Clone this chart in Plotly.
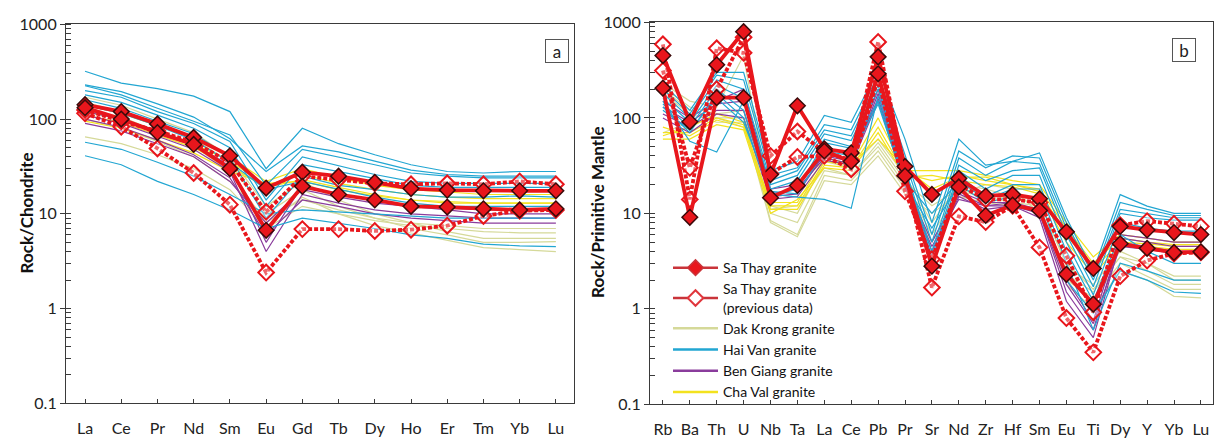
import plotly.graph_objects as go

# ---------------- data ----------------
REE = ["La", "Ce", "Pr", "Nd", "Sm", "Eu", "Gd", "Tb", "Dy", "Ho", "Er", "Tm", "Yb", "Lu"]
SPIDER = ["Rb", "Ba", "Th", "U", "Nb", "Ta", "La", "Ce", "Pb", "Pr", "Sr", "Nd", "Zr", "Hf",
          "Sm", "Eu", "Ti", "Dy", "Y", "Yb", "Lu"]

Y_TICKS = [0.1, 1, 10, 100, 1000]
Y_TICKTEXT = ["0.1", "1", "10", "100", "1000"]

# Sa Thay granite (this study)
sa_thay_ree = [
    [142, 120, 89, 64, 41, 18.7, 27.5, 25, 21.5, 18.5, 17.8, 17.5, 17.5, 17.5],
    [132, 100, 72, 54, 30, 6.7, 19.5, 16, 14, 12, 11.8, 11.3, 11.0, 11.3],
]
# Sa Thay granite (previous data)
sa_thay_prev_ree = [
    [115, 83, 49, 27, 12.5, 2.4, 6.9, 6.9, 6.6, 6.8, 7.5, 9.5, 10.8, 11],
    [125, 95, 75, 57, 35, 10.5, 25, 23, 21, 20.5, 21, 20.5, 22, 20.5],
]
dak_krong_ree = [
    [170, 140, 100, 72, 40, 12, 22, 14, 10, 8, 6.5, 5.5, 5.5, 5.5],
    [150, 120, 88, 62, 35, 10, 18, 12, 9, 7, 6, 5, 5, 5.1],
    [130, 105, 75, 52, 28, 8, 15, 10, 7.5, 6.3, 5.3, 4.4, 4.2, 4.0],
    [100, 80, 58, 40, 22, 9, 14, 11, 9, 8, 7.5, 7, 7, 7],
    [65, 55, 42, 30, 18, 7, 12, 10, 8.5, 7.5, 7, 6.5, 6.3, 6.3],
]
hai_van_ree = [
    [320, 240, 210, 175, 120, 30, 80, 55, 42, 33, 28, 27, 28, 28],
    [230, 195, 145, 105, 62, 28, 52, 45, 36, 29, 26, 25, 25, 25],
    [225, 180, 130, 95, 68, 20, 48, 40, 33, 27, 25, 24, 24, 24],
    [200, 170, 120, 90, 58, 14, 40, 32, 26, 22, 21, 21, 21, 21],
    [180, 150, 110, 80, 50, 12, 33, 28, 24, 20, 19, 19, 19, 19],
    [160, 130, 95, 70, 40, 9, 25, 20, 18, 16, 15, 15, 15.5, 15],
    [140, 115, 85, 60, 35, 18, 22, 18, 15, 13, 12, 12, 12, 12],
    [57, 48, 35, 25, 16, 10, 11, 10.5, 10, 9.5, 9, 9, 9, 9],
    [41, 33, 22, 16, 11, 7, 9, 8, 7, 6, 5.5, 4.8, 4.6, 4.5],
]
ben_giang_ree = [
    [120, 100, 75, 55, 32, 5, 20, 16, 14, 12, 11, 10, 10, 10],
    [110, 90, 66, 48, 28, 4, 16, 13, 11, 10, 9.5, 9, 9, 9],
    [100, 82, 60, 42, 24, 6, 14, 12, 10, 9, 8.5, 8, 8, 8],
    [90, 75, 55, 40, 22, 8, 18, 15, 13, 12, 11.5, 11, 11, 11],
]
cha_val_ree = [
    [140, 115, 85, 62, 40, 22, 30, 24, 20, 18, 17, 16, 16, 16],
    [120, 100, 75, 55, 36, 20, 26, 21, 18, 16, 15, 14.5, 14.5, 14.5],
    [110, 92, 68, 50, 32, 19, 23, 19, 16, 14, 13, 13, 13, 13],
    [95, 80, 60, 44, 28, 21, 22, 18, 15.5, 14, 13.5, 13, 13, 13],
]

sa_thay_sp = [
    [450, 91, 360, 800, 25.5, 134, 47.5, 43, 436, 31, 15.8, 23.2, 15.2, 15.8, 14.2, 6.4, 2.65, 7.3, 6.7, 6.3, 6.0],
    [205, 9.1, 163, 163, 14.6, 19.6, 45, 35, 290, 24.7, 2.8, 18.9, 9.5, 12.2, 10.7, 2.3, 1.12, 4.8, 4.3, 3.9, 3.95],
]
sa_thay_prev_sp = [
    [590, 14, 536, 480, 40, 72, 44, 36, 625, 25, 1.67, 9.3, 8.1, 12, 4.4, 0.8, 0.35, 2.2, 3.2, 3.8, 3.9],
    [313, 30, 200, 700, 26, 39, 40, 29, 260, 17, 3.3, 20, 14, 14, 13, 3.6, 0.92, 7.5, 8.3, 7.8, 7.3],
]
dak_krong_sp = [
    [230, 150, 130, 450, 12, 10, 35, 30, 60, 25, 8, 20, 18, 15, 14, 2.8, 1.8, 4, 3, 2.2, 2.2],
    [210, 130, 110, 120, 10, 8, 28, 25, 50, 20, 6, 17, 15, 13, 12, 2.3, 1.5, 3.5, 2.5, 1.8, 1.8],
    [200, 120, 100, 100, 8.4, 6, 25, 22, 45, 18, 5, 15, 13, 12, 11, 2.0, 1.3, 3, 2.2, 1.6, 1.6],
    [180, 110, 90, 90, 8, 5.7, 22, 20, 40, 16, 10, 16, 20, 18, 10, 1.8, 1.0, 2.5, 2, 1.35, 1.3],
    [70, 90, 100, 80, 11, 12, 30, 25, 55, 22, 12, 18, 16, 14, 13, 3, 1.6, 3.5, 3, 2, 2],
]
hai_van_sp = [
    [230, 120, 300, 300, 28, 35, 106, 90, 320, 60, 8, 60, 32, 35, 43, 9, 2.5, 15.7, 11.9, 10, 10],
    [200, 110, 280, 250, 25, 30, 85, 75, 280, 40, 6, 45, 30, 40, 38, 8, 2.2, 13, 11, 9.5, 9.5],
    [180, 100, 250, 200, 22, 28, 75, 65, 250, 35, 5, 38, 25, 35, 33, 7, 2.0, 11, 10, 9, 9],
    [160, 90, 220, 160, 20, 25, 68, 58, 220, 30, 4, 32, 22, 28, 30, 6, 1.7, 10, 9, 8.5, 8.5],
    [150, 57, 44, 150, 18, 22, 60, 50, 200, 28, 3.5, 28, 18, 25, 25, 5, 1.4, 8, 7, 6.5, 6.5],
    [140, 80, 200, 120, 16, 14.8, 14, 11.3, 170, 25, 3, 25, 15, 20, 20, 4, 1.2, 6, 4, 3, 3],
    [130, 70, 180, 100, 15, 18, 55, 48, 150, 22, 10, 22, 14, 18, 18, 3, 0.6, 3, 2.5, 2, 2],
    [120, 75, 160, 90, 17, 16, 45, 40, 140, 20, 7, 20, 13, 15, 15, 2, 0.9, 2.5, 2, 1.5, 1.45],
]
ben_giang_sp = [
    [150, 100, 150, 200, 18, 20, 40, 35, 200, 22, 4, 16, 12, 13, 10, 1.5, 0.6, 5.5, 5, 4.5, 4.5],
    [130, 90, 140, 150, 16, 18, 38, 33, 180, 20, 3.5, 15, 11, 12, 9, 1.2, 0.5, 5, 4.5, 4, 4],
    [110, 80, 120, 120, 15, 16, 42, 36, 160, 21, 5, 17, 13, 13, 11, 2, 0.75, 6, 5.5, 5, 5],
    [100, 70, 110, 100, 14, 15, 36, 32, 150, 19, 4.5, 14, 12, 12, 10, 1.8, 0.7, 4.5, 4.2, 3.8, 3.8],
]
cha_val_sp = [
    [65, 80, 110, 90, 12, 12, 35, 32, 100, 28, 28, 28, 25, 22, 20, 8, 3.5, 6, 5.5, 5, 5],
    [70, 70, 100, 85, 11, 11, 32, 30, 80, 26, 22, 25, 22, 20, 18, 7, 3.0, 5.5, 5, 4.7, 4.7],
    [80, 65, 95, 80, 13, 13, 38, 33, 60, 30, 18, 24, 24, 20, 17, 6, 2.6, 5, 4.8, 4.5, 4.5],
    [60, 60, 85, 75, 10, 14, 30, 28, 70, 24, 25, 22, 20, 19, 16, 5, 2.3, 4.6, 4.5, 4.2, 4.2],
]

# ---------------- style ----------------
C_DAK = "#d5d999"
C_HAI = "#22a6d2"
C_BEN = "#8a3c9c"
C_CHA = "#f3e21e"
C_RED = "#e8161c"
C_RED_LEG = "#c9343a"
C_EDGE = "#3b0a0a"
FONT = "Lato"
W, H = 1216, 442

fig = go.Figure()


def add_group(xcats, rows, color, xa, ya, width=1.2):
    for r in rows:
        fig.add_trace(go.Scatter(x=xcats, y=r, mode="lines", xaxis=xa, yaxis=ya,
                                 line=dict(color=color, width=width), showlegend=False,
                                 hoverinfo="skip"))


def add_sathay(xcats, rows, prev, xa, ya):
    for r in rows:
        if prev:
            fig.add_trace(go.Scatter(
                x=xcats, y=r, mode="lines+markers", xaxis=xa, yaxis=ya, showlegend=False,
                line=dict(color=C_RED, width=3.8, dash="4px,2px"),
                marker=dict(symbol="diamond", size=12, color="rgba(255,255,255,0.35)",
                            line=dict(color=C_RED, width=2))))
        else:
            fig.add_trace(go.Scatter(
                x=xcats, y=r, mode="lines+markers", xaxis=xa, yaxis=ya, showlegend=False,
                line=dict(color=C_RED, width=3.8),
                marker=dict(symbol="diamond", size=12, color=C_RED,
                            line=dict(color=C_EDGE, width=1.5))))


for xcats, groups, xa, ya in [
    (REE, (dak_krong_ree, hai_van_ree, ben_giang_ree, cha_val_ree,
           sa_thay_prev_ree, sa_thay_ree), "x", "y"),
    (SPIDER, (dak_krong_sp, hai_van_sp, ben_giang_sp, cha_val_sp,
              sa_thay_prev_sp, sa_thay_sp), "x2", "y2"),
]:
    dk, hv, bg, cv, pv, st = groups
    add_group(xcats, dk, C_DAK, xa, ya)
    add_group(xcats, cv, C_CHA, xa, ya)
    add_group(xcats, bg, C_BEN, xa, ya)
    add_group(xcats, hv, C_HAI, xa, ya)
    add_sathay(xcats, pv, True, xa, ya)
    add_sathay(xcats, st, False, xa, ya)

# legend-only entries
leg = [
    ("Sa Thay granite", dict(color=C_RED_LEG, width=2.5),
     dict(symbol="diamond", size=12, color=C_RED, line=dict(color=C_RED_LEG, width=1.5)), "lines+markers"),
    ("Sa Thay granite<br>(previous data)", dict(color=C_RED_LEG, width=2.5),
     dict(symbol="diamond", size=12, color="white", line=dict(color="#e0363c", width=2)), "lines+markers"),
    ("Dak Krong granite", dict(color=C_DAK, width=2.5), None, "lines"),
    ("Hai Van granite", dict(color=C_HAI, width=2.5), None, "lines"),
    ("Ben Giang granite", dict(color=C_BEN, width=2.5), None, "lines"),
    ("Cha Val granite", dict(color=C_CHA, width=2.5), None, "lines"),
]
for name, ln, mk, mode in leg:
    kw = dict(marker=mk) if mk else {}
    fig.add_trace(go.Scatter(x=[None], y=[None], mode=mode, name=name, line=ln,
                             xaxis="x2", yaxis="y2", showlegend=True, **kw))

minor_vals = [m * 10 ** e for e in range(-1, 3) for m in range(2, 10)]

axis_common = dict(showline=True, linecolor="#3a3a3a", linewidth=1.2, mirror=True,
                   showgrid=False, zeroline=False)
yaxis_common = dict(axis_common, type="log", range=[-1, 3], tickvals=Y_TICKS,
                    ticktext=Y_TICKTEXT, ticks="outside", ticklen=5, tickcolor="#3a3a3a",
                    tickfont=dict(family=FONT, size=16, color="#222"),
                    minor=dict(tickvals=minor_vals + Y_TICKS, ticks="inside", ticklen=5,
                               tickcolor="#3a3a3a", showgrid=False))
xaxis_common = dict(axis_common, type="category", ticks="inside", ticklen=4,
                    tickcolor="#3a3a3a", ticklabelstandoff=10,
                    tickfont=dict(family=FONT, size=16, color="#222"))

title_font = dict(family=FONT, size=17, color="#111")

fig.update_layout(
    width=W, height=H,
    margin=dict(l=0, r=0, t=0, b=0),
    paper_bgcolor="white", plot_bgcolor="white",
    font=dict(family=FONT, color="#222"),
    xaxis=dict(xaxis_common, domain=[66 / W, 574 / W], range=[-0.525, 13.5],
               categoryorder="array", categoryarray=REE, anchor="y"),
    yaxis=dict(yaxis_common, domain=[1 - 411 / H, 1 - 15 / H], anchor="x"),
    xaxis2=dict(xaxis_common, domain=[650 / W, 1213 / W], range=[-0.48, 20.45],
                categoryorder="array", categoryarray=SPIDER, anchor="y2"),
    yaxis2=dict(yaxis_common, domain=[1 - 412 / H, 1 - 13 / H], anchor="x2"),
    legend=dict(x=668 / W, y=1 - 253 / H, xanchor="left", yanchor="top",
                bgcolor="rgba(0,0,0,0)", borderwidth=0, itemwidth=45,
                font=dict(family=FONT, size=14, color="#111"), tracegroupgap=0),
    showlegend=True,
    annotations=[
        dict(text="<b>Rock/Chondrite</b>", textangle=-90, x=14 / W, y=1 - 212 / H,
             xref="paper", yref="paper", showarrow=False, font=title_font),
        dict(text="<b>Rock/Primitive Mantle</b>", textangle=-90, x=598 / W, y=1 - 212 / H,
             xref="paper", yref="paper", showarrow=False, font=title_font),
        dict(text="a", x=557 / W, y=1 - 30 / H, xref="paper", yref="paper",
             showarrow=False, width=20, height=20, borderpad=1,
             bordercolor="#555", borderwidth=1, font=dict(family=FONT, size=17, color="#222")),
        dict(text="b", x=1196 / W, y=1 - 29 / H, xref="paper", yref="paper",
             showarrow=False, width=20, height=20, borderpad=1,
             bordercolor="#555", borderwidth=1, font=dict(family=FONT, size=17, color="#222")),
    ],
)

fig.write_html("out.html")
